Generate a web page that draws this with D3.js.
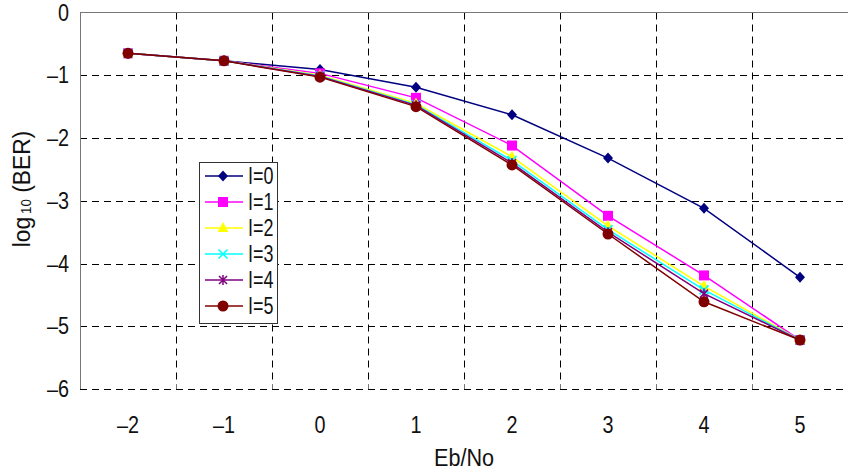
<!DOCTYPE html>
<html><head><meta charset="utf-8">
<script src="https://cdn.jsdelivr.net/npm/d3@7"></script>
<style>body{margin:0;background:#fff}svg{display:block}text{font-family:"Liberation Sans",Arial,sans-serif;fill:#111}</style>
</head><body><svg id="c" width="848" height="473"></svg>
<script>
const categories = [-2, -1, 0, 1, 2, 3, 4, 5];
const yTicks = [0, -1, -2, -3, -4, -5, -6];
const seriesNames = ["I=0", "I=1", "I=2", "I=3", "I=4", "I=5"];
const I0 = [-0.65, -0.77, -0.91, -1.19, -1.63, -2.32, -3.12, -4.22];
const I1 = [-0.65, -0.77, -0.97, -1.36, -2.12, -3.24, -4.19, -5.22];
const I2 = [-0.65, -0.77, -1.00, -1.45, -2.30, -3.40, -4.36, -5.22];
const I3 = [-0.65, -0.77, -1.01, -1.47, -2.36, -3.46, -4.42, -5.22];
const I4 = [-0.65, -0.77, -1.02, -1.48, -2.40, -3.50, -4.48, -5.22];
const I5 = [-0.65, -0.77, -1.03, -1.50, -2.43, -3.53, -4.61, -5.22];
const seriesValues = [I0, I1, I2, I3, I4, I5];
const colors = ["#000080", "#FF00FF", "#FFFF00", "#00FFFF", "#800080", "#800000"];
const markers = ["diamond", "square", "triangle", "x", "star", "circle"];

const svg = d3.select("#c");
const L = 80, R = 848, T = 12.5, B = 389;
const x = d3.scaleBand().domain(categories).range([L, R]).padding(0);
const y = d3.scaleLinear().domain([-6, 0]).range([B, T]);
const cx = d => x(d) + x.bandwidth() / 2;
const fmt = v => v < 0 ? "\u2013" + Math.abs(v) : String(v);

// horizontal grid
svg.append("g").selectAll("line").data(yTicks.filter(v => v !== 0)).join("line")
  .attr("x1", L).attr("x2", R).attr("y1", d => Math.round(y(d)) + 0.5).attr("y2", d => Math.round(y(d)) + 0.5)
  .attr("stroke", "#000").attr("stroke-width", 1).attr("stroke-dasharray", "7,5");
// vertical grid at category boundaries
const bounds = categories.slice(1).map(c => x(c)).concat([R - 0.5]);
svg.append("g").selectAll("line").data(bounds).join("line")
  .attr("x1", d => Math.round(d) + 0.5).attr("x2", d => Math.round(d) + 0.5).attr("y1", T).attr("y2", B)
  .attr("stroke", "#000").attr("stroke-width", 1).attr("stroke-dasharray", "7,5");
// top border and left axis
svg.append("line").attr("x1", L).attr("x2", R).attr("y1", 12.5).attr("y2", 12.5).attr("stroke", "#777");
svg.append("line").attr("x1", L + 0.5).attr("x2", L + 0.5).attr("y1", T).attr("y2", B).attr("stroke", "#777");
// small ticks at bottom
svg.append("g").selectAll("line").data([L].concat(bounds)).join("line")
  .attr("x1", d => Math.round(d) + 0.5).attr("x2", d => Math.round(d) + 0.5).attr("y1", B - 4).attr("y2", B)
  .attr("stroke", "#777");

// y tick labels
svg.append("g").selectAll("text").data(yTicks).join("text")
  .attr("transform", d => `translate(69,${y(d) + 8}) scale(0.86,1)`).attr("text-anchor", "end")
  .attr("font-size", 23).text(fmt);
// x tick labels
svg.append("g").selectAll("text").data(categories).join("text")
  .attr("transform", d => `translate(${cx(d)},433) scale(0.86,1)`).attr("text-anchor", "middle")
  .attr("font-size", 23).text(fmt);
// axis titles
svg.append("text").attr("transform", `translate(${cx(1) + x.bandwidth() / 2},466) scale(0.9,1)`).attr("text-anchor", "middle")
  .attr("font-size", 24).text("Eb/No");
const yt = svg.append("text").attr("transform", "translate(30,189) rotate(-90) scale(0.95,1)").attr("text-anchor", "middle").attr("font-size", 24);
yt.append("tspan").text("log");
yt.append("tspan").attr("font-size", 14).attr("dy", 1).attr("dx", 3).text("10");
yt.append("tspan").attr("dy", -1).text(" (BER)");

function drawMarker(g, type, color, px, py) {
  if (type === "diamond") {
    g.append("path").attr("d", `M${px},${py-5.5}L${px+5},${py}L${px},${py+5.5}L${px-5},${py}Z`).attr("fill", color);
  } else if (type === "square") {
    g.append("rect").attr("x", px - 5).attr("y", py - 5).attr("width", 10).attr("height", 10).attr("fill", color);
  } else if (type === "triangle") {
    g.append("path").attr("d", `M${px},${py-6}L${px+5.5},${py+4}L${px-5.5},${py+4}Z`).attr("fill", color);
  } else if (type === "x") {
    g.append("path").attr("d", `M${px-4.5},${py-4.5}L${px+4.5},${py+4.5}M${px-4.5},${py+4.5}L${px+4.5},${py-4.5}`).attr("stroke", color).attr("stroke-width", 1.5);
  } else if (type === "star") {
    g.append("path").attr("d", `M${px-4},${py-4}L${px+4},${py+4}M${px-4},${py+4}L${px+4},${py-4}M${px},${py-5}L${px},${py+5}`).attr("stroke", color).attr("stroke-width", 1.5);
  } else {
    g.append("circle").attr("cx", px).attr("cy", py).attr("r", 5.5).attr("fill", color);
  }
}

const line = d3.line().x((d, i) => cx(categories[i])).y(d => y(d));
seriesValues.forEach((vals, s) => {
  const g = svg.append("g");
  g.append("path").datum(vals).attr("d", line).attr("fill", "none").attr("stroke", colors[s]).attr("stroke-width", 1.5);
  vals.forEach((v, i) => drawMarker(g, markers[s], colors[s], cx(categories[i]), y(v)));
});

// legend
const lg = svg.append("g");
lg.append("rect").attr("x", 199.5).attr("y", 162.5).attr("width", 78).attr("height", 161)
  .attr("fill", "#fff").attr("stroke", "#333").attr("stroke-width", 1);
seriesNames.forEach((n, s) => {
  const ly = 176 + s * 26;
  lg.append("line").attr("x1", 205).attr("x2", 243).attr("y1", ly).attr("y2", ly).attr("stroke", colors[s]).attr("stroke-width", 1.5);
  drawMarker(lg, markers[s], colors[s], 223, ly);
  lg.append("text").attr("transform", `translate(248,${ly + 8}) scale(0.78,1)`).attr("font-size", 23).text(n);
});
</script></body></html>
